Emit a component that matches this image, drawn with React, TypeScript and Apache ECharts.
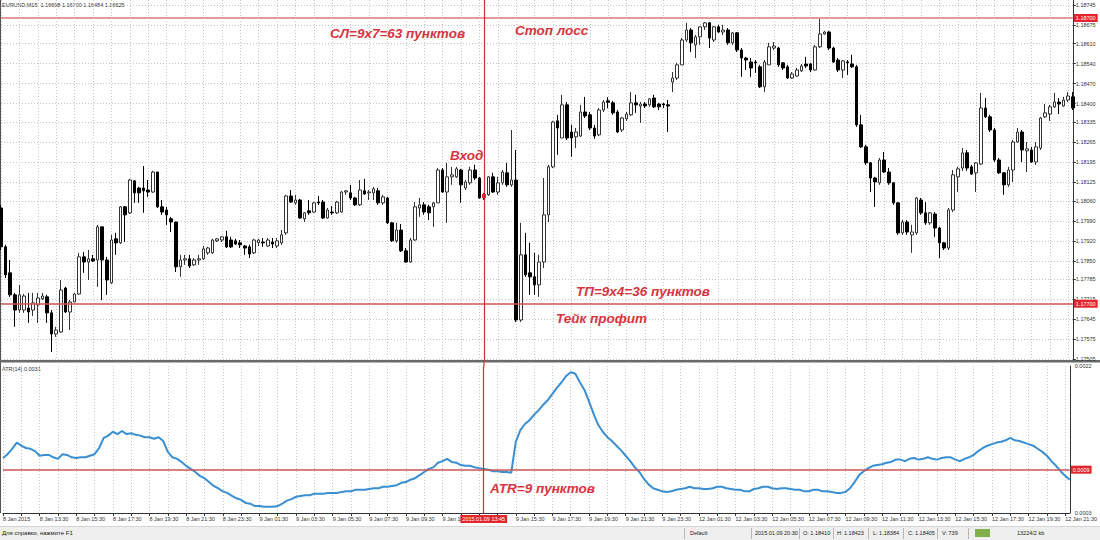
import React, { useEffect, useRef } from "react";
import * as echarts from "echarts";

const FONT = '"Liberation Sans", Arial, sans-serif';
const HEADER_TEXT = "EURUSD,M15  1.16698 1.16700 1.16484 1.16625";
const ATR_TITLE = "ATR(14) 0.0031";

const PRICE_MIN = 1.17503;
const PRICE_MAX = 1.18763;
const PRICE_TICKS = [
  1.18745, 1.18675, 1.1861, 1.1854, 1.1847, 1.184, 1.18335, 1.18265, 1.18195, 1.18125,
  1.1806, 1.1799, 1.1792, 1.1785, 1.17785, 1.17715, 1.17645, 1.17575, 1.17505,
];
const STOP_LOSS = 1.187;
const TAKE_PROFIT = 1.177;
const ENTRY_INDEX = 105;
const ENTRY_PRICE = 1.18077;
const CROSSHAIR_LABEL = "2015.01.09 13:45";
const HIDDEN_TIME_LABEL = 104; // "9 Jan 13:30" lies under the crosshair label

const ATR_MIN = 0.0003;
const ATR_MAX = 0.0022;
const ATR_TICKS = [0.0003, 0.0022];
const ATR_LEVEL = 0.00086;

const ANNOTATIONS = [
  { text: "СЛ=9х7=63 пунктов", x: 330, y: 33 },
  { text: "Стоп лосс", x: 515, y: 30 },
  { text: "Вход", x: 450, y: 155 },
  { text: "ТП=9х4=36 пунктов", x: 576, y: 291 },
  { text: "Тейк профит", x: 556, y: 318 },
  { text: "ATR=9 пунктов", x: 490, y: 488 },
];

const STATUS_LEFT = "Для справки, нажмите F1";
const STATUS_ITEMS = [
  { text: "Default", x: 690, sep: 684 },
  { text: "2015.01.09 20:30", x: 755, sep: 751 },
  { text: "O: 1.18410", x: 803, sep: 799 },
  { text: "H: 1.18423", x: 837, sep: 833 },
  { text: "L: 1.18384", x: 873, sep: 868 },
  { text: "C: 1.18405", x: 908, sep: 903 },
  { text: "V: 739", x: 942, sep: 937 },
  { text: "13224/2 kb", x: 1017, sep: 968 },
];

// [open, close, low, high], EURUSD M15 from 8 Jan 2015 11:30
const CANDLES: number[][] = [
  [1.18035, 1.17899, 1.17888, 1.18046], [1.17899, 1.17801, 1.1779, 1.17906], [1.17808, 1.17731, 1.17724, 1.17853],
  [1.17731, 1.17678, 1.17619, 1.17738], [1.17678, 1.17731, 1.17668, 1.17766], [1.17678, 1.17727, 1.17668, 1.17734],
  [1.17685, 1.17671, 1.17633, 1.17738], [1.17678, 1.17703, 1.17657, 1.17738], [1.17696, 1.1772, 1.17633, 1.17738],
  [1.17717, 1.17727, 1.17713, 1.17738], [1.17724, 1.17668, 1.17633, 1.17731], [1.17668, 1.17594, 1.17531, 1.17678],
  [1.17594, 1.17608, 1.17584, 1.17619], [1.17601, 1.17748, 1.17598, 1.17783], [1.17755, 1.17671, 1.17668, 1.17759],
  [1.17671, 1.17706, 1.17608, 1.17713], [1.17706, 1.17734, 1.17706, 1.17738], [1.17734, 1.17864, 1.17731, 1.17878],
  [1.17864, 1.17846, 1.17808, 1.17881], [1.17846, 1.17857, 1.17783, 1.17888], [1.17857, 1.1785, 1.17846, 1.17871],
  [1.17853, 1.17969, 1.17759, 1.17976], [1.17969, 1.17853, 1.17713, 1.17969], [1.17853, 1.17783, 1.17731, 1.17864],
  [1.17773, 1.17923, 1.17769, 1.17941], [1.17927, 1.17913, 1.17871, 1.17948], [1.17913, 1.18039, 1.17909, 1.18042],
  [1.18039, 1.18011, 1.17916, 1.18042], [1.18018, 1.18133, 1.18014, 1.18137], [1.1813, 1.18088, 1.18053, 1.18133],
  [1.18105, 1.18088, 1.18053, 1.18109], [1.18105, 1.18095, 1.18018, 1.18182], [1.18098, 1.18091, 1.18074, 1.18133],
  [1.18091, 1.18161, 1.18088, 1.18165], [1.18161, 1.18039, 1.18035, 1.18161], [1.18039, 1.18021, 1.18011, 1.18063],
  [1.18028, 1.18011, 1.17976, 1.18039], [1.17997, 1.17986, 1.17951, 1.18004], [1.17986, 1.17829, 1.17811, 1.17986],
  [1.17829, 1.17853, 1.17794, 1.17871], [1.17853, 1.17857, 1.17836, 1.17871], [1.17857, 1.17832, 1.17825, 1.17871],
  [1.17836, 1.17853, 1.17832, 1.1786], [1.17853, 1.17857, 1.17836, 1.17871], [1.17857, 1.17892, 1.17853, 1.17902],
  [1.17878, 1.17895, 1.17871, 1.17899], [1.17878, 1.17923, 1.17874, 1.17927], [1.1792, 1.17927, 1.17916, 1.1793],
  [1.17923, 1.17934, 1.17916, 1.17937], [1.17934, 1.17899, 1.17895, 1.17955], [1.17923, 1.17899, 1.17895, 1.17934],
  [1.1792, 1.17909, 1.17906, 1.17927], [1.17913, 1.17906, 1.17895, 1.17923], [1.17902, 1.17895, 1.17871, 1.17906],
  [1.17899, 1.17874, 1.1786, 1.17906], [1.17878, 1.17923, 1.17874, 1.17927], [1.17913, 1.17923, 1.17902, 1.17927],
  [1.17916, 1.17913, 1.17899, 1.1793], [1.17902, 1.17923, 1.17899, 1.1793], [1.17916, 1.17909, 1.17895, 1.1793],
  [1.17902, 1.1792, 1.17895, 1.1793], [1.17913, 1.17941, 1.17906, 1.17958], [1.17948, 1.18077, 1.17941, 1.18081],
  [1.18077, 1.18056, 1.18053, 1.18098], [1.18053, 1.18063, 1.18046, 1.18081], [1.18063, 1.18, 1.17997, 1.18067],
  [1.17997, 1.18018, 1.17986, 1.18021], [1.18025, 1.18018, 1.18011, 1.18063], [1.18021, 1.18053, 1.18018, 1.18056],
  [1.18056, 1.18053, 1.18046, 1.18077], [1.18056, 1.18, 1.17997, 1.18063], [1.18, 1.18028, 1.17997, 1.18035],
  [1.18021, 1.18018, 1.18011, 1.18042], [1.18018, 1.18056, 1.18014, 1.1806], [1.18021, 1.18091, 1.18018, 1.18095],
  [1.18091, 1.18095, 1.18081, 1.18098], [1.18088, 1.1807, 1.18063, 1.18116], [1.1807, 1.18046, 1.18042, 1.18074],
  [1.18046, 1.18098, 1.18042, 1.18133], [1.18095, 1.18084, 1.18081, 1.18137], [1.18088, 1.18091, 1.18063, 1.18098],
  [1.18088, 1.18102, 1.18063, 1.18109], [1.18095, 1.18053, 1.18046, 1.18105], [1.18053, 1.18074, 1.18046, 1.18081],
  [1.1807, 1.17983, 1.17979, 1.18074], [1.17983, 1.1792, 1.17916, 1.17986], [1.1792, 1.17958, 1.17913, 1.17983],
  [1.17958, 1.17885, 1.17881, 1.17979], [1.17885, 1.17846, 1.17843, 1.17895], [1.17846, 1.17923, 1.17843, 1.1793],
  [1.17923, 1.18039, 1.1792, 1.18056], [1.18035, 1.18046, 1.18004, 1.1807], [1.18046, 1.18021, 1.18011, 1.18056],
  [1.18039, 1.18018, 1.17993, 1.18046], [1.18039, 1.18053, 1.17969, 1.18056], [1.18053, 1.18168, 1.18053, 1.18175],
  [1.18168, 1.18091, 1.18088, 1.18175], [1.18091, 1.18144, 1.17983, 1.18193], [1.18144, 1.18151, 1.18116, 1.18179],
  [1.18144, 1.18172, 1.1814, 1.18179], [1.18168, 1.18116, 1.18053, 1.18172], [1.18105, 1.18126, 1.18098, 1.18133],
  [1.18123, 1.18168, 1.18116, 1.18179], [1.18168, 1.1814, 1.18133, 1.18186], [1.1814, 1.1807, 1.18067, 1.18144],
  [1.1807, 1.18077, 1.18063, 1.18088], [1.18081, 1.18144, 1.18077, 1.18147], [1.18144, 1.18091, 1.18088, 1.18158],
  [1.18091, 1.18123, 1.18081, 1.18144], [1.18123, 1.18161, 1.18116, 1.18168], [1.18158, 1.18116, 1.18109, 1.18193],
  [1.18116, 1.18133, 1.18109, 1.18308], [1.18133, 1.17643, 1.17636, 1.18238], [1.17643, 1.17871, 1.17636, 1.17983],
  [1.17871, 1.17801, 1.17794, 1.17948], [1.17808, 1.17794, 1.17731, 1.17913], [1.17794, 1.17766, 1.17731, 1.17878],
  [1.17766, 1.17846, 1.17724, 1.17871], [1.17846, 1.18011, 1.17825, 1.1814], [1.18011, 1.18179, 1.17986, 1.18186],
  [1.18179, 1.18336, 1.18175, 1.1834], [1.1834, 1.18315, 1.18221, 1.18361], [1.1828, 1.18396, 1.1828, 1.18431],
  [1.18396, 1.1828, 1.18273, 1.18406], [1.18301, 1.1828, 1.18214, 1.18326], [1.18284, 1.18301, 1.18245, 1.18315],
  [1.18287, 1.18371, 1.18284, 1.18396], [1.18371, 1.18357, 1.1835, 1.18424], [1.18361, 1.18315, 1.18308, 1.18371],
  [1.18315, 1.18287, 1.18277, 1.18326], [1.18291, 1.18378, 1.18287, 1.18385], [1.18378, 1.18406, 1.18371, 1.18413],
  [1.1841, 1.18405, 1.18384, 1.18423], [1.18403, 1.18368, 1.18361, 1.1841], [1.18371, 1.18301, 1.18298, 1.18378],
  [1.18308, 1.1835, 1.18301, 1.18354], [1.18347, 1.18364, 1.1834, 1.18371], [1.18361, 1.18403, 1.18357, 1.18441],
  [1.18403, 1.18396, 1.18368, 1.18431], [1.18392, 1.18399, 1.18333, 1.18406], [1.18399, 1.18392, 1.18385, 1.18406],
  [1.18396, 1.18417, 1.18389, 1.1842], [1.1842, 1.18389, 1.18385, 1.18431], [1.18399, 1.18389, 1.18378, 1.18403],
  [1.18399, 1.18396, 1.18385, 1.18403], [1.18396, 1.18392, 1.18301, 1.18413], [1.18476, 1.1849, 1.18441, 1.18511],
  [1.1849, 1.18536, 1.18483, 1.18543], [1.18536, 1.18623, 1.18536, 1.1863], [1.18623, 1.18658, 1.18616, 1.18683],
  [1.18658, 1.18613, 1.18581, 1.18665], [1.18606, 1.18634, 1.1856, 1.18641], [1.18634, 1.18669, 1.18606, 1.18672],
  [1.18669, 1.18683, 1.18658, 1.18686], [1.18683, 1.1863, 1.18595, 1.18686], [1.18623, 1.18669, 1.18616, 1.18672],
  [1.18669, 1.18651, 1.18648, 1.18676], [1.18651, 1.18658, 1.18641, 1.18676], [1.18658, 1.18613, 1.18606, 1.18665],
  [1.18613, 1.18648, 1.18606, 1.18651], [1.18648, 1.18588, 1.18581, 1.18651], [1.18588, 1.1856, 1.18494, 1.18595],
  [1.1856, 1.18553, 1.18518, 1.18564], [1.18546, 1.18525, 1.18494, 1.1856], [1.18546, 1.18543, 1.18508, 1.18553],
  [1.18529, 1.18459, 1.18455, 1.18536], [1.18459, 1.18546, 1.18441, 1.18553], [1.18536, 1.18599, 1.18536, 1.18613],
  [1.18595, 1.18602, 1.18588, 1.18616], [1.18595, 1.18536, 1.18529, 1.18599], [1.18543, 1.18525, 1.18518, 1.18546],
  [1.18529, 1.1849, 1.18487, 1.18536], [1.1849, 1.18504, 1.18487, 1.18511], [1.18497, 1.18518, 1.18494, 1.18525],
  [1.18515, 1.18532, 1.18511, 1.18539], [1.18539, 1.18532, 1.18525, 1.18564], [1.18539, 1.18518, 1.18511, 1.18543],
  [1.18518, 1.18599, 1.18515, 1.18606], [1.18599, 1.18644, 1.18595, 1.18697], [1.18644, 1.18651, 1.18641, 1.18655],
  [1.18651, 1.18595, 1.18588, 1.18655], [1.18595, 1.18546, 1.18543, 1.18599], [1.18553, 1.18518, 1.18511, 1.1856],
  [1.18518, 1.1855, 1.1849, 1.18553], [1.18546, 1.18543, 1.18501, 1.18553], [1.18539, 1.18529, 1.18525, 1.18571],
  [1.18529, 1.18326, 1.18319, 1.18536], [1.18326, 1.18249, 1.18245, 1.18361], [1.18249, 1.18193, 1.18186, 1.18256],
  [1.18193, 1.1814, 1.18091, 1.18196], [1.1814, 1.18126, 1.18039, 1.18144], [1.18123, 1.18203, 1.18116, 1.1821],
  [1.18203, 1.18161, 1.18158, 1.18231], [1.18161, 1.18123, 1.18116, 1.18175], [1.18123, 1.18053, 1.18046, 1.18126],
  [1.18053, 1.17948, 1.17941, 1.18056], [1.17948, 1.17986, 1.17941, 1.17993], [1.17986, 1.17951, 1.17941, 1.17993],
  [1.17941, 1.17951, 1.17878, 1.17976], [1.17948, 1.1807, 1.17941, 1.18074], [1.18063, 1.18018, 1.18011, 1.1807],
  [1.18018, 1.17983, 1.17976, 1.18056], [1.17983, 1.18018, 1.17976, 1.18021], [1.18014, 1.17965, 1.17934, 1.18021],
  [1.17965, 1.17913, 1.1786, 1.17969], [1.17913, 1.17895, 1.17888, 1.17916], [1.17895, 1.18028, 1.17888, 1.18035],
  [1.18028, 1.18151, 1.18021, 1.18168], [1.18144, 1.18172, 1.18091, 1.18179], [1.18175, 1.18228, 1.18165, 1.18245],
  [1.18228, 1.18175, 1.18165, 1.18238], [1.18179, 1.18154, 1.18151, 1.18186], [1.18158, 1.18193, 1.18091, 1.18196],
  [1.18189, 1.18385, 1.18186, 1.18438], [1.18385, 1.18354, 1.1835, 1.1842], [1.18354, 1.18308, 1.18301, 1.18361],
  [1.18308, 1.18203, 1.18196, 1.18315], [1.18203, 1.18158, 1.18154, 1.1821], [1.18158, 1.18116, 1.18081, 1.18161],
  [1.18116, 1.18168, 1.18109, 1.18179], [1.18168, 1.18266, 1.18126, 1.18273], [1.18266, 1.18301, 1.18263, 1.18315],
  [1.18301, 1.18238, 1.18196, 1.18308], [1.18235, 1.18242, 1.18161, 1.18266], [1.18238, 1.18196, 1.18193, 1.18249],
  [1.18196, 1.18249, 1.18186, 1.18266], [1.18245, 1.1835, 1.18238, 1.18354], [1.18354, 1.18368, 1.1835, 1.18399],
  [1.18364, 1.18389, 1.1834, 1.18396], [1.18389, 1.18406, 1.18385, 1.18438], [1.18406, 1.18399, 1.18364, 1.1842],
  [1.18392, 1.18413, 1.18389, 1.18424], [1.18413, 1.18427, 1.18406, 1.18441], [1.18424, 1.18385, 1.18378, 1.18441],
];

const ATR: number[] = [
  0.00101, 0.00106, 0.00113, 0.00121, 0.00117, 0.00114, 0.00113, 0.0011, 0.00104, 0.00105,
  0.00105, 0.00102, 0.001, 0.00106, 0.00105, 0.00102, 0.00101, 0.00102, 0.00102, 0.00104,
  0.00106, 0.00114, 0.00127, 0.0013, 0.00135, 0.00132, 0.00136, 0.00132, 0.00133, 0.00131,
  0.0013, 0.00128, 0.00128, 0.00126, 0.00128, 0.00123, 0.00109, 0.00102, 0.001, 0.00096,
  0.00091, 0.00087, 0.00083, 0.00078, 0.00075, 0.0007, 0.00065, 0.00062, 0.00058, 0.00056,
  0.00052, 0.00049, 0.00047, 0.00043, 0.00042, 0.00039, 0.00039, 0.00038, 0.00038, 0.00038,
  0.00039, 0.00042, 0.00046, 0.00048, 0.00051, 0.00052, 0.00053, 0.00053, 0.00055, 0.00055,
  0.00055, 0.00056, 0.00056, 0.00056, 0.00057, 0.00058, 0.00058, 0.0006, 0.0006, 0.0006,
  0.00061, 0.00062, 0.00062, 0.00064, 0.00064, 0.00065, 0.00066, 0.00069, 0.0007, 0.00073,
  0.00075, 0.00079, 0.00083, 0.00087, 0.00089, 0.00095, 0.00097, 0.001, 0.00096, 0.00095,
  0.00092, 0.00091, 0.00091, 0.00089, 0.00088, 0.00087, 0.00086, 0.00084, 0.00084, 0.00083,
  0.00083, 0.00082, 0.00122, 0.00137, 0.00145, 0.0015, 0.00157, 0.00163, 0.0017, 0.00176,
  0.00184, 0.00192, 0.00199, 0.00207, 0.00212, 0.0021, 0.00199, 0.00189, 0.00174, 0.00158,
  0.00144, 0.00135, 0.00128, 0.00123, 0.00117, 0.00111, 0.00104, 0.00097, 0.00089, 0.00083,
  0.00074, 0.00067, 0.00062, 0.0006, 0.00058, 0.00057, 0.00058, 0.0006, 0.00061, 0.00062,
  0.00064, 0.00062, 0.00062, 0.00061, 0.00061, 0.00062, 0.00064, 0.00064, 0.00062, 0.00061,
  0.0006, 0.0006, 0.00058, 0.00058, 0.00061, 0.00062, 0.00064, 0.00064, 0.00062, 0.00061,
  0.00062, 0.00062, 0.00061, 0.0006, 0.0006, 0.00058, 0.00058, 0.0006, 0.0006, 0.00058,
  0.00058, 0.00057, 0.00056, 0.00056, 0.00057, 0.00062, 0.0007, 0.00079, 0.00084, 0.00088,
  0.00091, 0.00092, 0.00093, 0.00095, 0.00096, 0.00099, 0.00099, 0.00097, 0.001, 0.00101,
  0.00099, 0.001, 0.00102, 0.001, 0.00099, 0.00101, 0.00102, 0.00102, 0.00099, 0.00097,
  0.001, 0.00102, 0.00105, 0.0011, 0.00114, 0.00117, 0.00119, 0.00121, 0.00122, 0.00124,
  0.00127, 0.00124, 0.00123, 0.00121, 0.00119, 0.00117, 0.00113, 0.00109, 0.00104, 0.00097,
  0.00091, 0.00084, 0.00078, 0.00073,
];

const MONTHS = ["Jan", "Feb", "Mar", "Apr", "May", "Jun", "Jul", "Aug", "Sep", "Oct", "Nov", "Dec"];

function buildCategories(n: number): string[] {
  const out: string[] = [];
  let t = Date.UTC(2015, 0, 8, 11, 30);
  const weekendStart = Date.UTC(2015, 0, 10, 0, 0);
  const weekendEnd = Date.UTC(2015, 0, 12, 0, 0);
  for (let i = 0; i < n; i++) {
    const d = new Date(t);
    const hh = String(d.getUTCHours()).padStart(2, "0");
    const mm = String(d.getUTCMinutes()).padStart(2, "0");
    out.push(`${d.getUTCDate()} ${MONTHS[d.getUTCMonth()]} ${hh}:${mm}`);
    t += 15 * 60 * 1000;
    if (t === weekendStart) t = weekendEnd;
  }
  return out;
}

export default function App() {
  const ref = useRef<HTMLDivElement>(null);

  useEffect(() => {
    document.body.style.margin = "0";
    if (!ref.current) return;
    const chart = echarts.init(ref.current, null, { renderer: "svg" });
    const categories = buildCategories(CANDLES.length);
    const dotted = { color: "#c6c6c6", type: [1, 2] as any, width: 1 };
    const crossColor = "#c8322e";
    const levelColor = "#cc5555";
    const redBox = {
      backgroundColor: "#e3262b",
      color: "#ffffff",
      fontSize: 5.5,
      fontFamily: FONT,
      padding: [1, 2, 1, 2],
    };

    const annotationGraphics = ANNOTATIONS.map((a) => ({
      type: "text",
      x: a.x,
      y: a.y,
      z: 100,
      style: {
        text: a.text,
        fill: "#d8343f",
        font: `italic bold 13.5px ${FONT}`,
        verticalAlign: "middle",
      },
    }));

    const statusGraphics: any[] = [
      { type: "rect", shape: { x: 0, y: 526, width: 1100, height: 14 }, style: { fill: "#efefef" } },
      { type: "line", shape: { x1: 0, y1: 526.5, x2: 1100, y2: 526.5 }, style: { stroke: "#d4d4d4", lineWidth: 1 } },
      {
        type: "text", x: 2, y: 533,
        style: { text: STATUS_LEFT, fill: "#222", font: `6px ${FONT}`, verticalAlign: "middle" },
      },
      { type: "rect", shape: { x: 975, y: 529, width: 15, height: 8 }, style: { fill: "#7fb04a" } },
    ];
    STATUS_ITEMS.forEach((s) => {
      statusGraphics.push({
        type: "line",
        shape: { x1: s.sep + 0.5, y1: 528, x2: s.sep + 0.5, y2: 539 },
        style: { stroke: "#b8b8b8", lineWidth: 1 },
      });
      statusGraphics.push({
        type: "text", x: s.x, y: 533,
        style: { text: s.text, fill: "#222", font: `5.5px ${FONT}`, verticalAlign: "middle" },
      });
    });

    const option: any = {
      animation: false,
      backgroundColor: "#ffffff",
      textStyle: { fontFamily: FONT },
      grid: [
        { left: 1, top: 0, width: 1071.8, height: 360 },
        { left: 1, top: 366, width: 1071.8, height: 147 },
      ],
      xAxis: [
        {
          type: "category",
          gridIndex: 0,
          data: categories,
          boundaryGap: false,
          axisLine: { show: false },
          axisTick: { show: false },
          axisLabel: { show: false },
          splitLine: { show: true, interval: (i: number) => i % 4 === 0, lineStyle: dotted },
        },
        {
          type: "category",
          gridIndex: 1,
          data: categories,
          boundaryGap: false,
          axisLine: { show: true, lineStyle: { color: "#333", width: 1 } },
          axisTick: { show: true, interval: (i: number) => i % 4 === 0, length: 3, lineStyle: { color: "#333" } },
          axisLabel: {
            interval: (i: number) => i % 8 === 0 && i !== HIDDEN_TIME_LABEL,
            align: "left",
            fontSize: 5.5,
            color: "#333",
            margin: 3,
            formatter: (v: string, i: number) => (i === 0 ? "8 Jan 2015" : v),
          },
          splitLine: { show: true, interval: (i: number) => i % 4 === 0, lineStyle: dotted },
        },
      ],
      yAxis: [
        {
          type: "value",
          gridIndex: 0,
          position: "right",
          min: PRICE_MIN,
          max: PRICE_MAX,
          axisLine: { show: true, lineStyle: { color: "#333", width: 1 } },
          axisTick: { show: true, length: 3, customValues: PRICE_TICKS, lineStyle: { color: "#333" } },
          axisLabel: {
            customValues: PRICE_TICKS,
            formatter: (v: number) => v.toFixed(5),
            fontSize: 5.5,
            color: "#333",
            margin: 3,
          },
          splitLine: { show: true, lineStyle: dotted },
        },
        {
          type: "value",
          gridIndex: 1,
          position: "right",
          min: ATR_MIN,
          max: ATR_MAX,
          axisLine: { show: true, lineStyle: { color: "#333", width: 1 } },
          axisTick: { show: false, customValues: ATR_TICKS },
          axisLabel: {
            customValues: ATR_TICKS,
            formatter: (v: number) => v.toFixed(4),
            fontSize: 5.5,
            color: "#333",
            margin: 5,
          },
          splitLine: { show: false },
        },
      ],
      series: [
        {
          type: "candlestick",
          xAxisIndex: 0,
          yAxisIndex: 0,
          data: CANDLES,
          barWidth: 3,
          itemStyle: {
            color: "#ffffff",
            color0: "#000000",
            borderColor: "#333333",
            borderColor0: "#000000",
            borderWidth: 1,
          },
          markLine: {
            symbol: ["none", "none"],
            silent: true,
            precision: 5,
            data: [
              {
                yAxis: STOP_LOSS,
                lineStyle: { color: "#e39a9a", width: 2, type: "solid" },
                label: { ...redBox, position: "end", distance: 1, formatter: (p: any) => Number(p.value).toFixed(5) },
              },
              {
                yAxis: TAKE_PROFIT,
                lineStyle: { color: levelColor, width: 1.5, type: "solid" },
                label: { ...redBox, position: "end", distance: 1, formatter: (p: any) => Number(p.value).toFixed(5) },
              },
              {
                xAxis: ENTRY_INDEX,
                lineStyle: { color: crossColor, width: 1.2, type: "solid" },
                label: { show: false },
              },
            ],
          },
          markPoint: {
            silent: true,
            data: [
              {
                coord: [ENTRY_INDEX, ENTRY_PRICE],
                symbol: "rect",
                symbolSize: 4,
                itemStyle: { color: "#e3262b" },
                label: { show: false },
              },
            ],
          },
        },
        {
          type: "line",
          xAxisIndex: 1,
          yAxisIndex: 1,
          data: ATR,
          showSymbol: false,
          symbol: "none",
          lineStyle: { color: "#3a8fd2", width: 2 },
          markLine: {
            symbol: ["none", "none"],
            silent: true,
            precision: 6,
            data: [
              {
                yAxis: ATR_LEVEL,
                lineStyle: { color: levelColor, width: 1.5, type: "solid" },
                label: { ...redBox, position: "end", distance: 1, formatter: (p: any) => Number(p.value).toFixed(4) },
              },
              {
                xAxis: ENTRY_INDEX,
                lineStyle: { color: crossColor, width: 1.2, type: "solid" },
                label: { ...redBox, position: "start", distance: 2, formatter: () => CROSSHAIR_LABEL },
              },
            ],
          },
        },
      ],
      graphic: [
        { type: "line", shape: { x1: 0.5, y1: 0, x2: 0.5, y2: 513 }, style: { stroke: "#555", lineWidth: 1 } },
        { type: "rect", shape: { x: 0, y: 360, width: 1100, height: 2.5 }, style: { fill: "#6a6a6a" } },
        { type: "line", shape: { x1: 484, y1: 360, x2: 484, y2: 366 }, style: { stroke: crossColor, lineWidth: 1.2 }, z: 10 },
        {
          type: "text", x: 2, y: 5,
          style: { text: HEADER_TEXT, fill: "#333", font: `5.5px ${FONT}`, verticalAlign: "middle" },
        },
        {
          type: "text", x: 2, y: 369,
          style: { text: ATR_TITLE, fill: "#333", font: `5.5px ${FONT}`, verticalAlign: "middle" },
        },
        ...annotationGraphics,
        ...statusGraphics,
      ],
    };

    chart.setOption(option);
    return () => chart.dispose();
  }, []);

  return (
    <div
      ref={ref}
      style={{ position: "absolute", left: 0, top: 0, width: 1100, height: 540, background: "#fff" }}
    />
  );
}
